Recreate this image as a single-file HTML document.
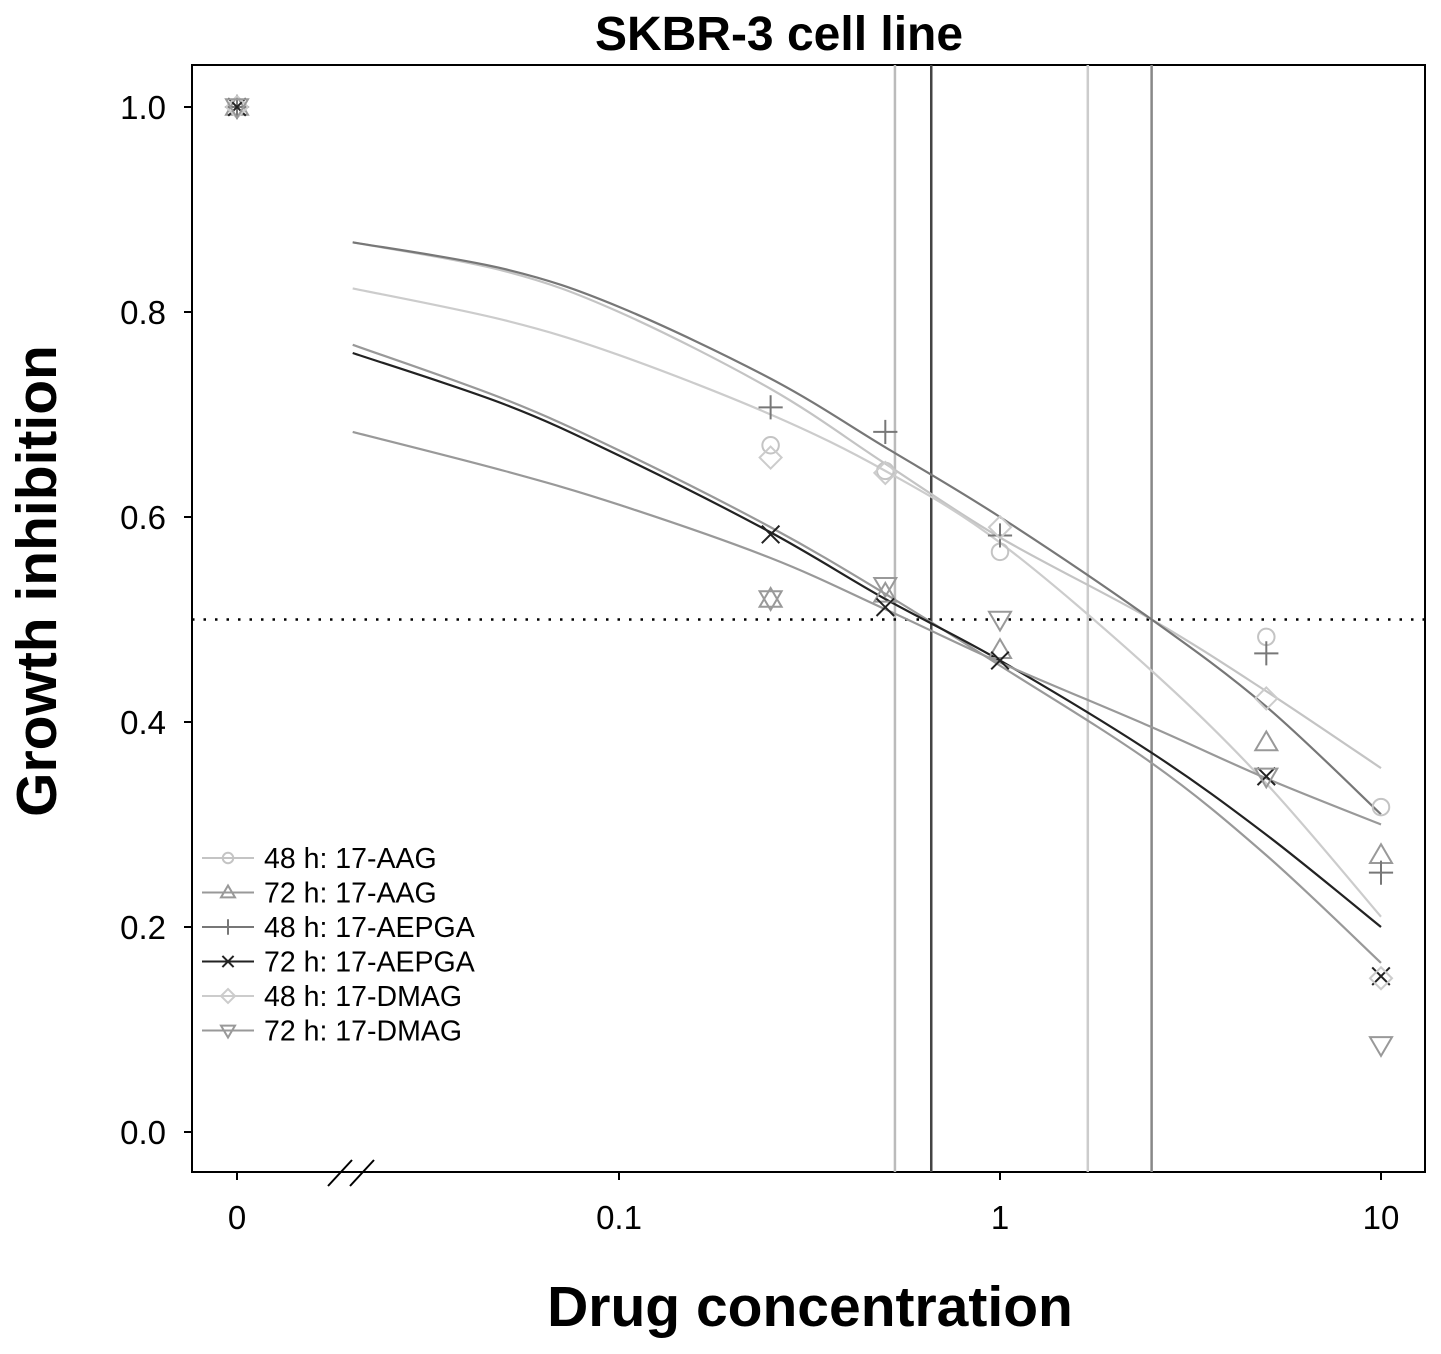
<!DOCTYPE html>
<html><head><meta charset="utf-8"><style>
body{margin:0;background:#fff}
svg{display:block;font-family:"Liberation Sans",Arial,sans-serif}
</style></head><body>
<svg id="chart" width="1441" height="1354">
<text x="779" y="50" text-anchor="middle" font-size="48" font-weight="bold">SKBR-3 cell line</text>
<text x="810" y="1326" text-anchor="middle" font-size="57" font-weight="bold">Drug concentration</text>
<text transform="translate(56,581) rotate(-90)" text-anchor="middle" font-size="57" font-weight="bold">Growth inhibition</text>
<g id="axes"></g><g id="plot"></g><g id="legend"></g>
</svg>
<script>
const seriesNames=["48 h: 17-AAG","72 h: 17-AAG","48 h: 17-AEPGA","72 h: 17-AEPGA","48 h: 17-DMAG","72 h: 17-DMAG"];
const seriesColors=["#c4c4c4","#999999","#777777","#222222","#cccccc","#999999"];
const seriesMarkers=["circle","triangle","plus","cross","diamond","tridown"];
const pointConc=[0.25,0.5,1,5,10];
const pts_AAG48=[0.67,0.645,0.566,0.483,0.317];
const pts_AAG72=[0.52,0.525,0.47,0.38,0.27];
const pts_AEPGA48=[0.707,0.683,0.582,0.467,0.253];
const pts_AEPGA72=[0.583,0.512,0.46,0.347,0.152];
const pts_DMAG48=[0.658,0.643,0.59,0.423,0.15];
const pts_DMAG72=[0.52,0.533,0.50,0.347,0.085];
const zeroValue=1.0;
const curveConc=[0.02,0.05,0.1,0.25,0.5,1,2.5,5,10];
const fit_AAG48=[0.868,0.84,0.8,0.725,0.652,0.58,0.5,0.43,0.355];
const fit_AAG72=[0.768,0.715,0.665,0.59,0.525,0.455,0.36,0.27,0.165];
const fit_AEPGA48=[0.868,0.842,0.805,0.735,0.668,0.6,0.5,0.415,0.31];
const fit_AEPGA72=[0.76,0.71,0.66,0.585,0.52,0.46,0.37,0.29,0.2];
const fit_DMAG48=[0.823,0.792,0.758,0.7,0.645,0.575,0.45,0.34,0.21];
const fit_DMAG72=[0.683,0.645,0.612,0.56,0.51,0.458,0.395,0.345,0.3];
const ic50=[0.53,0.66,1.7,2.5];
const ic50Colors=["#bbbbbb","#444444","#cccccc","#888888"];
const yTicks=[0,0.2,0.4,0.6,0.8,1.0];
const yTickLabels=["0.0","0.2","0.4","0.6","0.8","1.0"];
const xTicks=[0.1,1,10];
const xTickLabels=["0.1","1","10"];
const allPts=[pts_AAG48,pts_AAG72,pts_AEPGA48,pts_AEPGA72,pts_DMAG48,pts_DMAG72];
const allFits=[fit_AAG48,fit_AAG72,fit_AEPGA48,fit_AEPGA72,fit_DMAG48,fit_DMAG72];

const NS="http://www.w3.org/2000/svg";
const L=192,R=1425,T=65,B=1172;
const xs=c=>1000+381*Math.log10(c);
const x0=237;
const ys=v=>1132-1025*v;
function el(tag,attrs,parent,txt){const e=document.createElementNS(NS,tag);for(const k in attrs)e.setAttribute(k,attrs[k]);if(txt!==undefined)e.textContent=txt;parent.appendChild(e);return e;}
const axes=document.getElementById('axes'),plot=document.getElementById('plot'),leg=document.getElementById('legend');
let f=el('rect',{x:L,y:T,width:R-L,height:B-T,fill:'none',stroke:'#000','stroke-width':2},axes);


yTicks.forEach((v,i)=>{
 el('line',{x1:L-8,x2:L,y1:ys(v),y2:ys(v),stroke:'#000','stroke-width':2},axes);
 const t=el('text',{x:L-26,y:ys(v)+12,'text-anchor':'end','font-size':33},axes,yTickLabels[i]);
 
 
});
el('line',{x1:x0,x2:x0,y1:B,y2:B+8,stroke:'#000','stroke-width':2},axes);
let t0=el('text',{x:x0,y:1229,'text-anchor':'middle','font-size':33},axes,"0");


xTicks.forEach((c,i)=>{
 el('line',{x1:xs(c),x2:xs(c),y1:B,y2:B+8,stroke:'#000','stroke-width':2},axes);
 const t=el('text',{x:xs(c),y:1229,'text-anchor':'middle','font-size':33},axes,xTickLabels[i]);
 
 
});
el('line',{x1:328,y1:1186,x2:352,y2:1160,stroke:'#000','stroke-width':2},axes);
el('line',{x1:350,y1:1186,x2:374,y2:1160,stroke:'#000','stroke-width':2},axes);
ic50.forEach((c,i)=>{
 const l=el('line',{x1:xs(c),x2:xs(c),y1:T,y2:B,stroke:ic50Colors[i],'stroke-width':2.5},plot);
 
 
});
let hl=el('line',{x1:L,x2:R,y1:ys(0.5),y2:ys(0.5),stroke:'#000','stroke-width':2.5,'stroke-dasharray':'2.5 9'},plot);


function pathFor(fit){
 const p=curveConc.map((c,i)=>[xs(c),ys(fit[i])]);
 let d=`M${p[0][0]},${p[0][1]}`;
 for(let i=0;i<p.length-1;i++){
  const a=p[i-1]||p[i],b=p[i],c=p[i+1],e=p[i+2]||c;
  d+=` C${b[0]+(c[0]-a[0])/6},${b[1]+(c[1]-a[1])/6} ${c[0]-(e[0]-b[0])/6},${c[1]-(e[1]-b[1])/6} ${c[0]},${c[1]}`;
 }
 return d;
}
function marker(type,x,y,col,parent,s){
 s=s||11;const a={fill:'none',stroke:col,'stroke-width':2};
 if(type==='circle')return el('circle',Object.assign({cx:x,cy:y,r:s*0.75},a),parent);
 if(type==='triangle')return el('polygon',Object.assign({points:`${x},${y-s} ${x-s},${y+s*0.7} ${x+s},${y+s*0.7}`},a),parent);
 if(type==='tridown')return el('polygon',Object.assign({points:`${x},${y+s} ${x-s},${y-s*0.7} ${x+s},${y-s*0.7}`},a),parent);
 if(type==='diamond')return el('polygon',Object.assign({points:`${x},${y-s} ${x+s},${y} ${x},${y+s} ${x-s},${y}`},a),parent);
 if(type==='plus')return el('path',Object.assign({d:`M${x-s*1.1},${y}H${x+s*1.1}M${x},${y-s*1.1}V${y+s*1.1}`},a),parent);
 if(type==='cross')return el('path',Object.assign({d:`M${x-s*0.8},${y-s*0.8}L${x+s*0.8},${y+s*0.8}M${x+s*0.8},${y-s*0.8}L${x-s*0.8},${y+s*0.8}`},a),parent);
}
allFits.forEach((fit,i)=>{
 const p=el('path',{d:pathFor(fit),fill:'none',stroke:seriesColors[i],'stroke-width':2.2},plot);
 
 
});
allPts.forEach((pts,i)=>{
 const m0=marker(seriesMarkers[i],x0,ys(zeroValue),seriesColors[i],plot);
 
 
 pts.forEach((v,j)=>{
  const m=marker(seriesMarkers[i],xs(pointConc[j]),ys(v),seriesColors[i],plot);
  
  
 });
});
seriesNames.forEach((n,i)=>{
 const y=858+34.5*i;
 const g=el('g',{},leg);
 
 
 el('line',{x1:202,x2:254,y1:y,y2:y,stroke:seriesColors[i],'stroke-width':2},g);
 marker(seriesMarkers[i],228,y,seriesColors[i],g,7);
 el('text',{x:264,y:y+10,'font-size':28.5},g,n);
});
</script>
</body></html>
